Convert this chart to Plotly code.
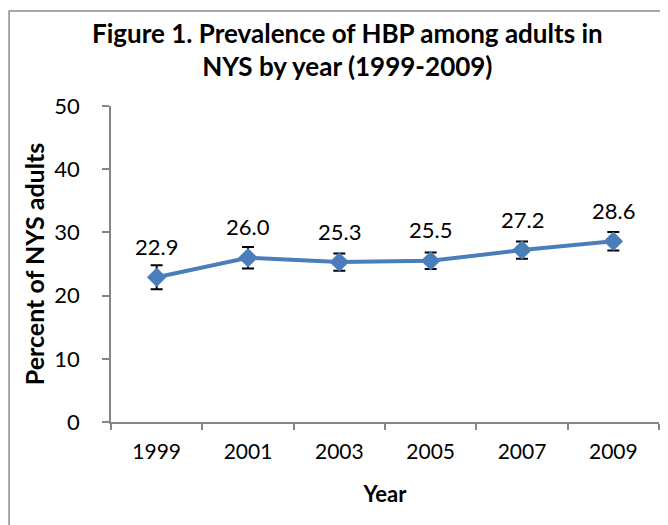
import plotly.graph_objects as go

years = ["1999", "2001", "2003", "2005", "2007", "2009"]
prevalence = [22.9, 26.0, 25.3, 25.5, 27.2, 28.6]
ci_half = [1.9, 1.7, 1.35, 1.3, 1.35, 1.45]
y_ticks = [0, 10, 20, 30, 40, 50]

FONT = "Lato"
BLUE = "#4a7ebb"
AXIS = "#868686"

fig = go.Figure()
fig.add_trace(go.Scatter(
    x=years, y=prevalence,
    mode="lines+markers",
    line=dict(color=BLUE, width=4),
    marker=dict(symbol="diamond", size=15, color=BLUE),
    error_y=dict(type="data", array=ci_half, visible=True,
                 color="black", thickness=2, width=6),
    showlegend=False,
))

for i, v in enumerate(prevalence):
    fig.add_annotation(x=i, y=v, text=f"{v:.1f}", showarrow=False,
                       yanchor="middle", yshift=31,
                       font=dict(family=FONT, size=22, color="black"))

fig.add_shape(type="rect", xref="paper", yref="paper",
              x0=-0.186, x1=1.2, y0=-0.5, y1=1.3006,
              line=dict(color="#8c8c8c", width=1.5), fillcolor="rgba(0,0,0,0)",
              layer="below")

fig.update_layout(
    width=668, height=525,
    margin=dict(l=103, r=17, t=98, b=111),
    paper_bgcolor="white", plot_bgcolor="white",
    title=dict(text="<b>Figure 1. Prevalence of HBP among adults in<br>NYS by year (1999-2009)</b>",
               x=0.508, xanchor="center", y=0.934, yanchor="middle",
               font=dict(family=FONT, size=26, color="black")),
    font=dict(family=FONT, color="black"),
)
fig.update_xaxes(
    type="category", tickson="boundaries", range=[-0.5, 5.5],
    automargin=False,
    showline=True, linecolor=AXIS, linewidth=1.5,
    ticks="outside", ticklen=6, tickcolor=AXIS, tickwidth=1.5,
    tickfont=dict(family=FONT, size=21, color="black"),
    ticklabelstandoff=10,
    showgrid=False, zeroline=False,
    title=dict(text="<b>Year</b>", font=dict(family=FONT, size=22, color="black"), standoff=25),
)
fig.update_yaxes(
    range=[0, 50], tickvals=y_ticks, automargin=False,
    showline=True, linecolor=AXIS, linewidth=1.5,
    ticks="outside", ticklen=7, tickcolor=AXIS, tickwidth=1.5,
    tickfont=dict(family=FONT, size=22, color="black"),
    ticklabelstandoff=18,
    showgrid=False, zeroline=False,
    title=dict(text="<b>Percent of NYS adults</b>", font=dict(family=FONT, size=25, color="black"), standoff=3),
)

fig.write_html("out.html")
